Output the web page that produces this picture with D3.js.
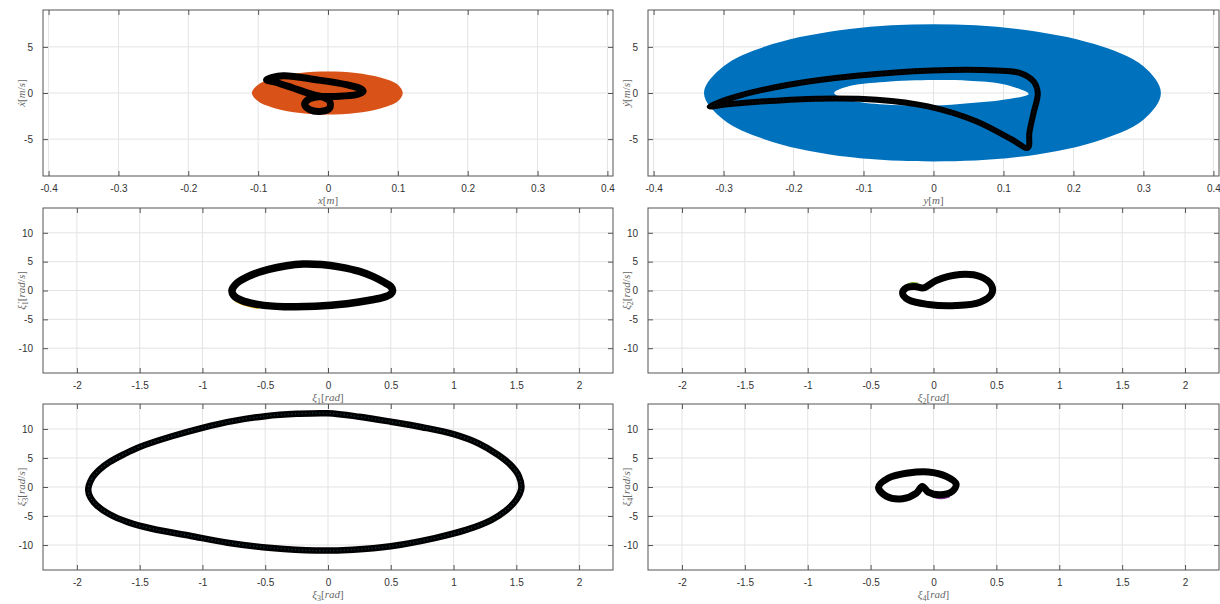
<!DOCTYPE html>
<html>
<head>
<meta charset="utf-8">
<script src="https://d3js.org/d3.v7.min.js"></script>
<style>
  body { margin: 0; background: #fff; }
  .tick text { font-family: "Liberation Sans", Arial, sans-serif; font-size: 10px; fill: #333; }
  .lab { font-family: "Liberation Serif", "DejaVu Serif", serif; font-size: 11px; fill: #666; }
</style>
</head>
<body>
<div id="chart"></div>
<script>
// tick values
const xTicksTop = [-0.4, -0.3, -0.2, -0.1, 0, 0.1, 0.2, 0.3, 0.4];
const yTicksTop = [-5, 0, 5];
const xTicksLow = [-2, -1.5, -1, -0.5, 0, 0.5, 1, 1.5, 2];
const yTicksLow = [-10, -5, 0, 5, 10];

// x phase plane: orange cloud outline + black orbit
const xCloud = [[-0.109, 0], [-0.1, 0.9], [-0.075, 1.67], [-0.04, 2.17], [0, 2.33], [0.04, 2.17],
  [0.075, 1.67], [0.1, 0.9], [0.107, 0], [0.1, -0.9], [0.075, -1.67], [0.04, -2.17], [0, -2.33],
  [-0.04, -2.17], [-0.075, -1.67], [-0.1, -0.9]];
const xOrbit = [[-0.088, 1.43], [-0.0645, 1.87], [-0.0166, 1.43], [0.0264, 0.9], [0.0478, 0.43],
  [0.0502, 0.17], [0.0407, -0.18], [0.0072, -0.37], [-0.0166, -0.43], [-0.0287, -0.72],
  [-0.0334, -1.26], [-0.0262, -1.8], [-0.0095, -1.98], [0.0024, -1.62], [0.0024, -0.91],
  [-0.0072, -0.43], [-0.0215, -0.18], [-0.05, 0.54], [-0.074, 1.14]];

// y phase plane: blue ring (outer rim + hole) + black orbit
const yRim = [[-0.328, 0], [-0.3, 2.9], [-0.23, 5.3], [-0.12, 6.95], [0, 7.45], [0.12, 6.95],
  [0.23, 5.3], [0.3, 2.9], [0.325, 0], [0.3, -2.9], [0.23, -5.3], [0.12, -6.95], [0, -7.42],
  [-0.12, -6.95], [-0.23, -5.3], [-0.3, -2.9]];
const yHole = [[-0.142, 0], [-0.12, 0.75], [-0.07, 1.2], [0, 1.4], [0.05, 1.33], [0.1, 0.95],
  [0.136, -0.1], [0.1, -0.72], [0.05, -1.1], [0, -1.35], [-0.07, -1.25], [-0.12, -0.75]];
const yOrbit = [[-0.32, -1.45], [-0.281, -0.36], [-0.207, 0.9], [-0.11, 1.87], [-0.002, 2.44],
  [0.089, 2.44], [0.124, 2.16], [0.143, 1.25], [0.149, 0], [0.143, -2.16], [0.137, -4.32],
  [0.135, -5.93], [0.112, -5.04], [0.061, -3.06], [-0.008, -1.45], [-0.081, -0.72],
  [-0.167, -0.61], [-0.241, -0.9], [-0.298, -1.26]];

// joint angle orbits
const xi1Orbit = [[-0.765, 0], [-0.73, 1.2], [-0.63, 2.5], [-0.48, 3.6], [-0.33, 4.3], [-0.2, 4.6],
  [-0.05, 4.5], [0.1, 4.05], [0.25, 3.3], [0.36, 2.4], [0.44, 1.5], [0.5, 0.7], [0.515, 0],
  [0.5, -0.6], [0.44, -1.2], [0.33, -1.7], [0.15, -2.3], [-0.1, -2.75], [-0.35, -2.8],
  [-0.55, -2.45], [-0.69, -1.7], [-0.75, -0.9]];
const xi1Tail = [[-0.73, -1.8], [-0.66, -2.45], [-0.56, -2.95]];

const xi2Orbit = [[-0.079, 0.46], [0.022, 1.74], [0.21, 2.78], [0.37, 2.43], [0.462, 0.87],
  [0.462, -0.58], [0.37, -2.03], [0.18, -2.61], [-0.04, -2.43], [-0.2, -1.62], [-0.246, -0.46],
  [-0.215, 0.46], [-0.152, 0.7]];
const xi2Tail = [[-0.2, 1.0], [-0.17, 1.22], [-0.13, 1.15]];

const xi3Orbit = [[-1.91, -0.5], [-1.88, 1.5], [-1.82, 3.0], [-1.74, 4.3], [-1.62, 5.7], [-1.5, 6.9],
  [-1.25, 8.7], [-1.0, 10.2], [-0.75, 11.4], [-0.5, 12.2], [-0.25, 12.6], [0, 12.7], [0.25, 12.1],
  [0.5, 11.25], [0.75, 10.3], [1.0, 9.1], [1.2, 7.5], [1.35, 5.6], [1.45, 3.9], [1.52, 1.9],
  [1.54, -0.2], [1.5, -2.2], [1.42, -4.0], [1.3, -5.7], [1.1, -7.4], [0.85, -8.8], [0.5, -10.2],
  [0.2, -10.8], [-0.1, -10.95], [-0.45, -10.5], [-0.8, -9.6], [-1.1, -8.4], [-1.4, -7.2],
  [-1.6, -6.0], [-1.74, -4.7], [-1.84, -3.2], [-1.89, -1.9]];

const xi4Orbit = [[-0.437, -0.07], [-0.358, 1.55], [-0.2, 2.42], [-0.042, 2.6], [0.101, 1.84],
  [0.18, 0.52], [0.149, -0.75], [0.053, -1.33], [-0.042, -0.87], [-0.089, 0.1], [-0.136, -1.04],
  [-0.246, -2.02], [-0.373, -1.62]];
const xi4Tail = [[0.0, -1.6], [0.06, -1.85], [0.12, -1.6]];

const W = 1220, H = 604;
const svg = d3.select("#chart").append("svg")
  .attr("width", W).attr("height", H);

const cols = [[43, 613], [648, 1219]];
const rows = [[10, 176], [208, 373], [404, 570]];

const panels = [
  { c: 0, r: 0, xd: [-0.408, 0.408], yd: [-9, 9], xt: xTicksTop, yt: yTicksTop,
    xl: ["x", null, false, "m"], yl: ["ẋ", null, false, "m/s"],
    fills: [{ rings: [xCloud], color: "#D95319" }],
    orbit: xOrbit, w: 7 },
  { c: 1, r: 0, xd: [-0.408, 0.408], yd: [-9, 9], xt: xTicksTop, yt: yTicksTop,
    xl: ["y", null, false, "m"], yl: ["ẏ", null, false, "m/s"],
    fills: [{ rings: [yRim, yHole], color: "#0072BD" }],
    orbit: yOrbit, w: 6, texture: "#1c3c5c" },
  { c: 0, r: 1, xd: [-2.27, 2.27], yd: [-14.3, 14.3], xt: xTicksLow, yt: yTicksLow,
    xl: ["ξ", "1", false, "rad"], yl: ["ξ", "1", true, "rad/s"],
    tail: { pts: xi1Tail, color: "#EDB120" }, orbit: xi1Orbit, w: 7.5 },
  { c: 1, r: 1, xd: [-2.27, 2.27], yd: [-14.3, 14.3], xt: xTicksLow, yt: yTicksLow,
    xl: ["ξ", "2", false, "rad"], yl: ["ξ", "2", true, "rad/s"],
    tail: { pts: xi2Tail, color: "#77AC30" }, orbit: xi2Orbit, w: 7 },
  { c: 0, r: 2, xd: [-2.27, 2.27], yd: [-14.3, 14.3], xt: xTicksLow, yt: yTicksLow,
    xl: ["ξ", "3", false, "rad"], yl: ["ξ", "3", true, "rad/s"],
    orbit: xi3Orbit, w: 6.5, texture: "#4DBEEE" },
  { c: 1, r: 2, xd: [-2.27, 2.27], yd: [-14.3, 14.3], xt: xTicksLow, yt: yTicksLow,
    xl: ["ξ", "4", false, "rad"], yl: ["ξ", "4", true, "rad/s"],
    tail: { pts: xi4Tail, color: "#7E2F8E" }, orbit: xi4Orbit, w: 7 }
];

function writeLabel(t, parts) {
  const [sym, sub, dot, unit] = parts;
  t.append("tspan").attr("font-style", "italic").text(dot ? sym + "\u0307" : sym);
  if (sub) t.append("tspan").attr("font-size", "8px").attr("dy", 2.5).text(sub);
  t.append("tspan").attr("dy", sub ? -2.5 : 0).text("[");
  unit.split("/").forEach((u, i) => {
    if (i > 0) t.append("tspan").text("/");
    t.append("tspan").attr("font-style", "italic").text(u);
  });
  t.append("tspan").text("]");
}

panels.forEach((p, k) => {
  const [x0, x1] = cols[p.c], [y0, y1] = rows[p.r];
  const x = d3.scaleLinear().domain(p.xd).range([x0, x1]);
  const y = d3.scaleLinear().domain(p.yd).range([y1, y0]);
  const g = svg.append("g");

  // grid
  g.append("g").selectAll("line").data(p.xt).join("line")
    .attr("x1", d => x(d)).attr("x2", d => x(d)).attr("y1", y0).attr("y2", y1)
    .attr("stroke", "#e3e3e3").attr("stroke-width", 1);
  g.append("g").selectAll("line").data(p.yt).join("line")
    .attr("y1", d => y(d)).attr("y2", d => y(d)).attr("x1", x0).attr("x2", x1)
    .attr("stroke", "#e3e3e3").attr("stroke-width", 1);

  // data
  const clipId = "clip" + k;
  svg.append("clipPath").attr("id", clipId).append("rect")
    .attr("x", x0).attr("y", y0).attr("width", x1 - x0).attr("height", y1 - y0);
  const plot = g.append("g").attr("clip-path", `url(#${clipId})`);
  const closed = d3.line().x(d => x(d[0])).y(d => y(d[1])).curve(d3.curveCatmullRomClosed.alpha(0.5));
  const open = d3.line().x(d => x(d[0])).y(d => y(d[1])).curve(d3.curveCatmullRom.alpha(0.5));

  (p.fills || []).forEach(f => {
    plot.append("path")
      .attr("d", f.rings.map(r => closed(r)).join(" "))
      .attr("fill", f.color).attr("fill-rule", "evenodd");
  });
  if (p.tail) {
    plot.append("path").attr("d", open(p.tail.pts))
      .attr("fill", "none").attr("stroke", p.tail.color)
      .attr("stroke-width", 3).attr("stroke-linecap", "round");
  }
  plot.append("path").attr("d", closed(p.orbit))
    .attr("fill", "none").attr("stroke", "#000")
    .attr("stroke-width", p.w).attr("stroke-linejoin", "round");
  if (p.texture) {
    plot.append("path").attr("d", closed(p.orbit))
      .attr("fill", "none").attr("stroke", p.texture).attr("stroke-opacity", 0.35)
      .attr("stroke-width", 1.2).attr("stroke-dasharray", "1 2.5");
  }

  // axes: ticks pointing inward on all four sides
  const tl = 5;
  g.append("g").attr("transform", `translate(0,${y1})`)
    .call(d3.axisBottom(x).tickValues(p.xt).tickSizeInner(-tl).tickSizeOuter(0).tickPadding(9).tickFormat(d3.format("")))
    .call(a => a.select(".domain").remove());
  g.append("g").attr("transform", `translate(0,${y0})`)
    .call(d3.axisTop(x).tickValues(p.xt).tickSizeInner(-tl).tickSizeOuter(0).tickFormat(""))
    .call(a => a.select(".domain").remove());
  g.append("g").attr("transform", `translate(${x0},0)`)
    .call(d3.axisLeft(y).tickValues(p.yt).tickSizeInner(-tl).tickSizeOuter(0).tickPadding(10).tickFormat(d3.format("")))
    .call(a => a.select(".domain").remove());
  g.append("g").attr("transform", `translate(${x1},0)`)
    .call(d3.axisRight(y).tickValues(p.yt).tickSizeInner(-tl).tickSizeOuter(0).tickFormat(""))
    .call(a => a.select(".domain").remove());
  g.selectAll(".tick line").attr("stroke", "#555");
  g.selectAll(".tick text").text(function () { return this.textContent.replace("−", "-"); });

  g.append("rect").attr("x", x0).attr("y", y0).attr("width", x1 - x0).attr("height", y1 - y0)
    .attr("fill", "none").attr("stroke", "#555").attr("stroke-width", 1);

  // axis titles
  const xt = g.append("text").attr("class", "lab").attr("text-anchor", "middle")
    .attr("x", (x0 + x1) / 2).attr("y", y1 + 28);
  writeLabel(xt, p.xl);
  const yt = g.append("text").attr("class", "lab").attr("text-anchor", "middle")
    .attr("transform", `translate(${x0 - 18},${(y0 + y1) / 2}) rotate(-90)`);
  writeLabel(yt, p.yl);
});
</script>
</body>
</html>
